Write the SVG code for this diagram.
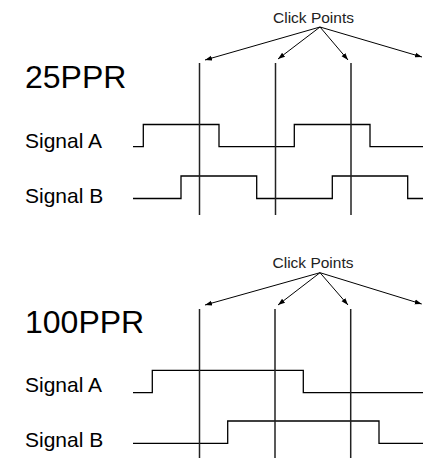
<svg xmlns="http://www.w3.org/2000/svg" width="423" height="458" viewBox="0 0 423 458">
<defs>
<style>
.lbl{font-family:"Liberation Sans",Arial,sans-serif;fill:#000}
.cp{font-family:"Liberation Sans",Arial,sans-serif;font-size:15.5px;fill:#222;text-anchor:middle}
.wave{fill:none;stroke:#000;stroke-width:1.3}
.tick{stroke:#222;stroke-width:1.5}
.arr{stroke:#000;stroke-width:1;fill:none;marker-end:url(#ah)}
</style>
<marker id="ah" viewBox="0 0 10 10" refX="10" refY="5" markerWidth="7" markerHeight="7" orient="auto" markerUnits="userSpaceOnUse">
<path d="M0,1.5 L10,5 L0,8.5 Z" fill="#000"/>
</marker>
</defs>
<rect width="423" height="458" fill="#fff"/>
<g id="top-title"><text class="lbl" x="25" y="88" font-size="32">25PPR</text></g>
<g id="top-clickpoints"><text class="cp" x="313.5" y="23">Click Points</text></g>
<g id="top-signalA-label"><text class="lbl" x="25" y="148" font-size="21">Signal A</text></g>
<g id="top-signalB-label"><text class="lbl" x="25" y="203" font-size="21">Signal B</text></g>
<g id="top-signalA"><path class="wave" d="M133,146.7 H143.3 V124.5 H219 V146.7 H294.3 V124.5 H370 V146.7 H423"/></g>
<g id="top-signalB"><path class="wave" d="M133,198.5 H181 V176 H256.7 V198.5 H332.3 V176 H407.7 V198.5 H423"/></g>
<g id="top-ticks">
<line class="tick" x1="199.5" y1="63" x2="199.5" y2="215"/>
<line class="tick" x1="275.5" y1="63" x2="275.5" y2="215"/>
<line class="tick" x1="351" y1="63" x2="351" y2="215"/>
</g>
<g id="bottom-title"><text class="lbl" x="25" y="333" font-size="32">100PPR</text></g>
<g id="bottom-clickpoints"><text class="cp" x="313" y="268.3">Click Points</text></g>
<g id="bottom-signalA-label"><text class="lbl" x="25" y="392" font-size="21">Signal A</text></g>
<g id="bottom-signalB-label"><text class="lbl" x="25" y="447" font-size="21">Signal B</text></g>
<g id="bottom-signalA"><path class="wave" d="M133,392.7 H152.3 V370.3 H303.3 V392.7 H423"/></g>
<g id="bottom-signalB"><path class="wave" d="M133,443.3 H227.7 V421 H379 V443.3 H423"/></g>
<g id="bottom-ticks">
<line class="tick" x1="199.5" y1="309" x2="199.5" y2="458"/>
<line class="tick" x1="275" y1="309" x2="275" y2="458"/>
<line class="tick" x1="350.7" y1="309" x2="350.7" y2="458"/>
</g>
<g id="connectors">
<line class="arr" x1="320" y1="27" x2="205" y2="60"/>
<line class="arr" x1="320" y1="27" x2="278" y2="59"/>
<line class="arr" x1="320" y1="27" x2="348" y2="60"/>
<line class="arr" x1="320" y1="27" x2="422" y2="57"/>
<line class="arr" x1="320" y1="272.7" x2="205" y2="305"/>
<line class="arr" x1="320" y1="272.7" x2="278" y2="305"/>
<line class="arr" x1="320" y1="272.7" x2="348" y2="305"/>
<line class="arr" x1="320" y1="272.7" x2="421.7" y2="304"/>
</g>
</svg>
